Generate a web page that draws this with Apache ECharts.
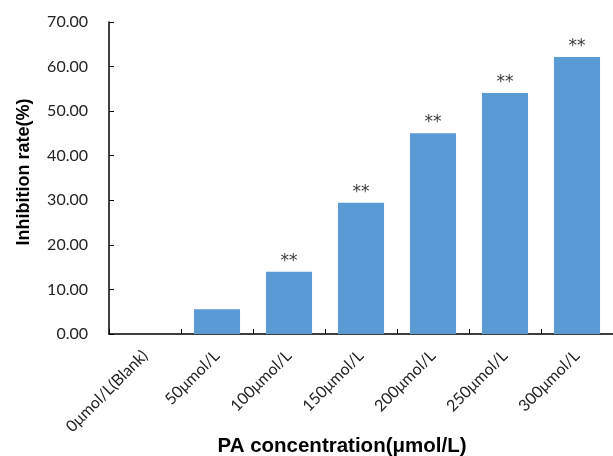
<!DOCTYPE html>
<html>
<head>
<meta charset="utf-8">
<script src="https://cdn.jsdelivr.net/npm/echarts@6/dist/echarts.min.js"></script>
<style>
html,body{margin:0;padding:0;background:#fff;}
#chart{width:613px;height:456px;}
</style>
</head>
<body>
<div id="chart"></div>
<script>
const categories = ['0μmol/L(Blank)', '50μmol/L', '100μmol/L', '150μmol/L', '200μmol/L', '250μmol/L', '300μmol/L'];
const inhibitionRate = [0, 5.54, 13.98, 29.46, 45.03, 54.07, 62.15];
const significance = ['', '', '**', '**', '**', '**', '**'];
const yTicks = [0, 10, 20, 30, 40, 50, 60, 70];
const xTitle = 'PA concentration(μmol/L)';
const yTitle = 'Inhibition rate(%)';

const chart = echarts.init(document.getElementById('chart'));
chart.setOption({
  animation: false,
  backgroundColor: '#ffffff',
  grid: { left: 109, width: 508, top: 22, height: 312, containLabel: false },
  xAxis: {
    type: 'category',
    data: categories,
    boundaryGap: true,
    axisLine: { show: true, lineStyle: { color: '#000', width: 1.5 } },
    axisTick: { show: true, inside: true, length: 5, alignWithLabel: false, lineStyle: { color: '#000', width: 1 } },
    axisLabel: {
      rotate: 45, interval: 0, margin: 19,
      fontFamily: 'Lato', fontSize: 16, color: '#222'
    },
    splitLine: { show: false }
  },
  yAxis: {
    type: 'value',
    min: yTicks[0], max: yTicks[yTicks.length - 1], interval: 10,
    axisLine: { show: true, lineStyle: { color: '#000', width: 1.5 } },
    axisTick: { show: true, inside: true, length: 5, lineStyle: { color: '#000', width: 1 } },
    axisLabel: {
      margin: 21, fontFamily: 'Lato', fontSize: 16, color: '#222',
      formatter: v => v.toFixed(2)
    },
    splitLine: { show: false }
  },
  graphic: [{
    type: 'text',
    x: 342, y: 446,
    style: {
      text: xTitle,
      font: 'bold 20.5px "Liberation Sans"',
      fill: '#000',
      textAlign: 'center',
      textVerticalAlign: 'middle'
    }
  }, {
    type: 'text',
    x: 24, y: 172,
    rotation: Math.PI / 2,
    style: {
      text: yTitle,
      font: 'bold 18px "Liberation Sans"',
      fill: '#000',
      textAlign: 'center',
      textVerticalAlign: 'middle'
    }
  }],
  series: [{
    type: 'bar',
    data: inhibitionRate,
    barCategoryGap: '36%',
    itemStyle: { color: '#5B9BD5' },
    label: {
      show: true,
      position: 'top',
      distance: 2,
      formatter: p => significance[p.dataIndex],
      fontFamily: 'DejaVu Sans',
      fontSize: 17,
      color: '#3a3a3a'
    }
  }]
});
</script>
</body>
</html>
